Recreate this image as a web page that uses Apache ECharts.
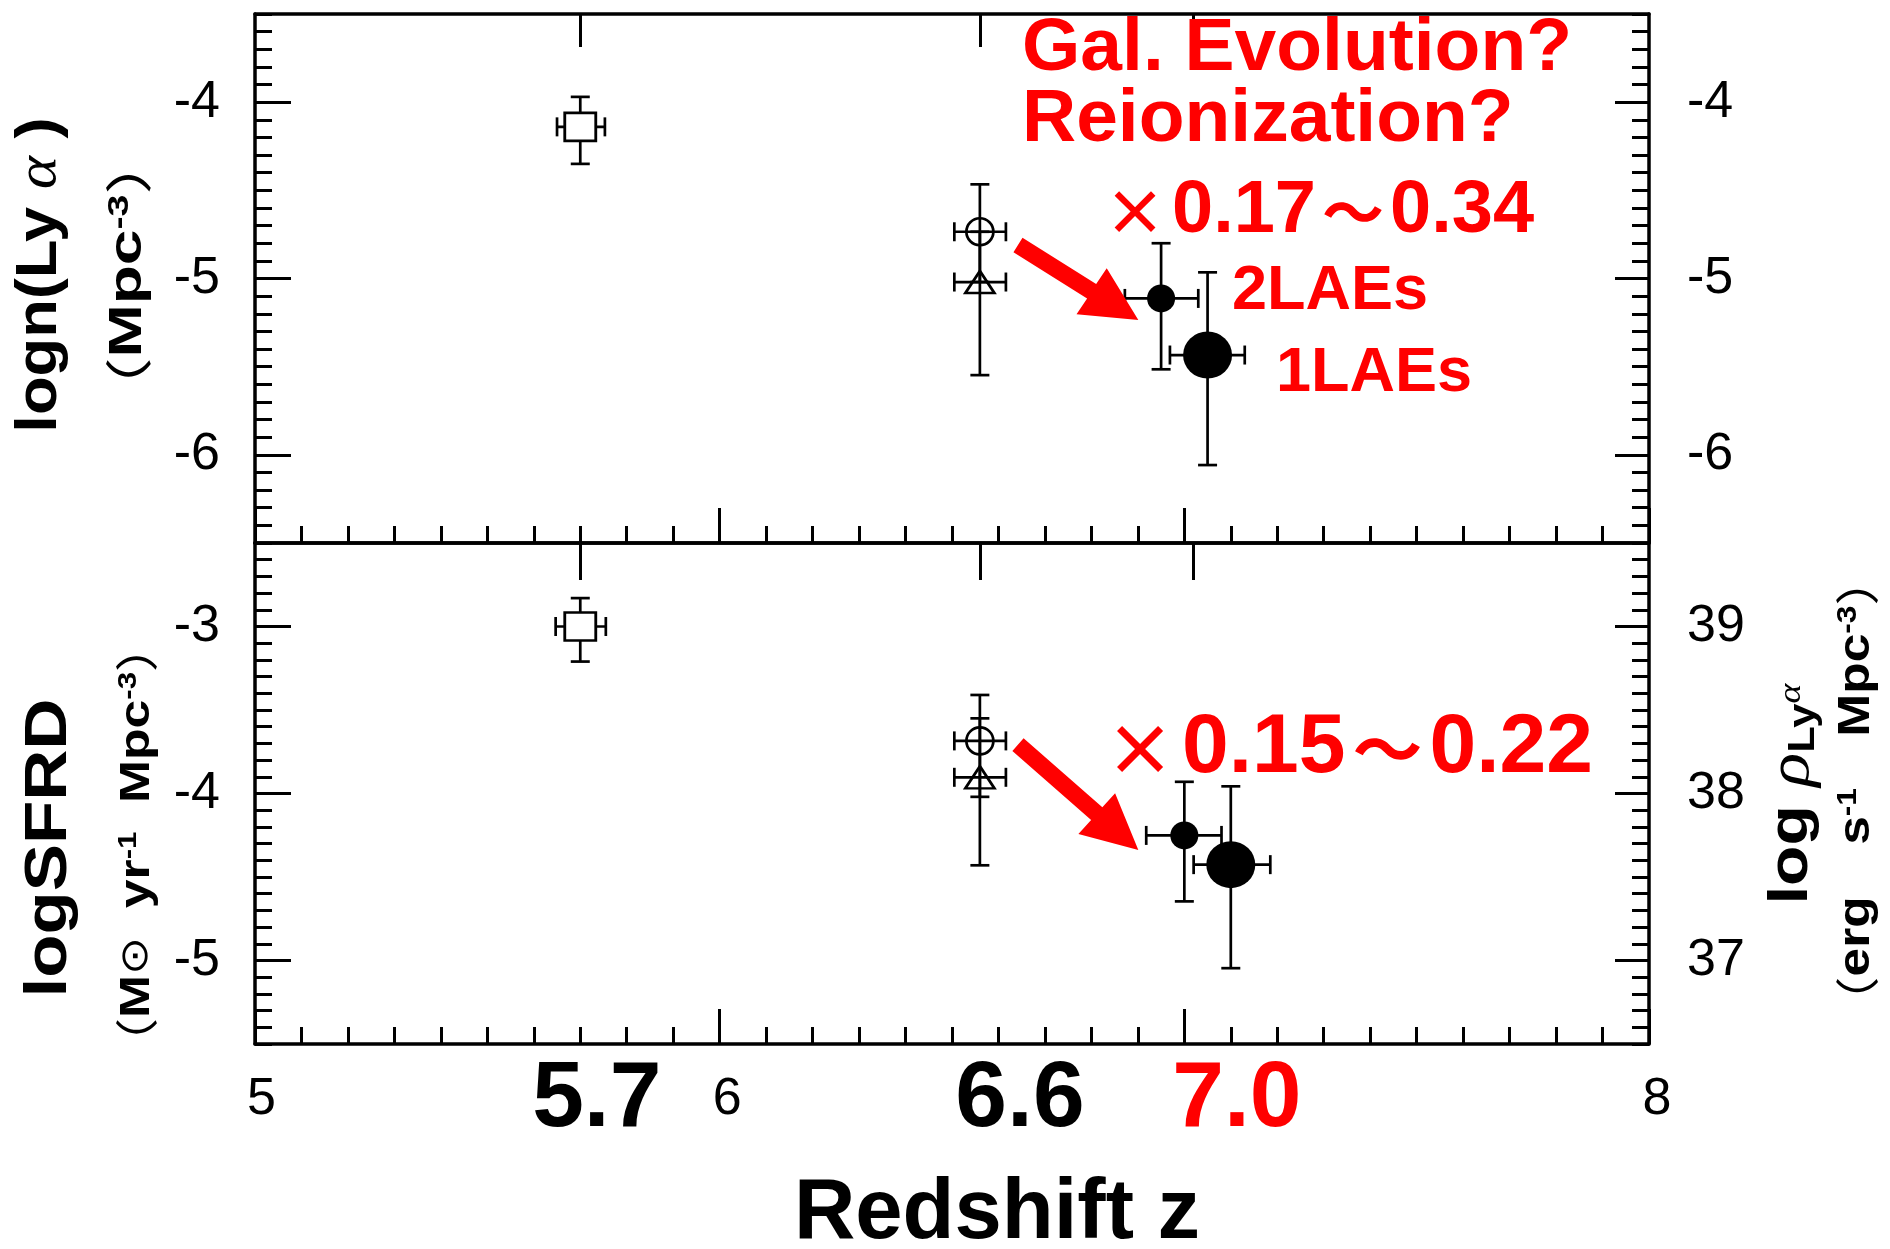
<!DOCTYPE html>
<html><head><meta charset="utf-8">
<script src="https://cdn.jsdelivr.net/npm/echarts@6/dist/echarts.min.js"></script>
<style>html,body{margin:0;padding:0;background:#fff}#c{width:1890px;height:1249px}</style>
</head><body><div id="c"></div>
<script>
// ---------------- data ----------------
// marker kinds, same order in every array below
const markerKinds = ['square', 'openCircle', 'openTriangle', 'dot2LAEs', 'dot1LAE'];

// upper panel : log n(Lya) [Mpc^-3]
const upperZ   = [5.70, 6.56, 6.56, 6.95, 7.05];
const upperZLo = [5.65, 6.505, 6.505, 6.872, 6.969];
const upperZHi = [5.753, 6.616, 6.616, 7.030, 7.130];
const upperY   = [-4.14, -4.735, -5.02, -5.113, -5.434];
const upperYHi = [-3.97, -4.466, -4.735, -4.80, -4.965];
const upperYLo = [-4.35, -5.02, -5.548, -5.515, -6.058];

// lower panel : log SFRD [Msun yr^-1 Mpc^-3]
const lowerZ   = [5.70, 6.56, 6.56, 7.00, 7.10];
const lowerZLo = [5.647, 6.505, 6.505, 6.918, 7.020];
const lowerZHi = [5.755, 6.616, 6.616, 7.080, 7.185];
const lowerY   = [-3.00, -3.685, -3.903, -4.251, -4.426];
const lowerYHi = [-2.83, -3.41, -3.55, -3.93, -3.957];
const lowerYLo = [-3.21, -4.02, -4.43, -4.646, -5.046];

// axes / tick labels
const xRange = [5, 8];
const xTickValues = [5, 6, 8];
const xTickLabels = ['5', '6', '8'];
const surveyZ = [5.7, 6.6, 7.0];
const surveyLabels = ['5.7', '6.6', '7.0'];
const surveyTicks = [5.7, 6.56, 7.02];
const upperYRange = [-6.5, -3.5];
const upperYTicks = [-6, -5, -4];
const lowerYRange = [-5.5, -2.5];
const lowerYTicks = [-5, -4, -3];
const lowerRightRange = [36.5, 39.5];
const lowerRightTicks = [37, 38, 39];

// annotation arrows (data coordinates)
const arrowUpper = {tail: [6.642, -4.810], tip: [6.901, -5.235], wingA: [6.768, -5.203], wingB: [6.833, -4.942]};
const arrowLower = {tail: [6.642, -3.707], tip: [6.901, -4.338], wingA: [6.772, -4.243], wingB: [6.851, -3.999]};

// ---------------- styling ----------------
const FONT = '"Liberation Sans", Arial, sans-serif';
const CJK = '"Noto Sans CJK JP", "Noto Sans CJK SC", sans-serif';
const SERIF = '"Liberation Serif", "DejaVu Serif", serif';
const DJV = '"DejaVu Sans", sans-serif';
const RED = '#ff0000';
const AXW = 3.5, TKW = 3;

const markerStyle = {
  square:       {symbol: 'rect',     size: [31, 28], fill: '#fff'},
  openCircle:   {symbol: 'circle',   size: 27,       fill: 'rgba(0,0,0,0)'},
  openTriangle: {symbol: 'triangle', size: [29, 22], fill: 'rgba(0,0,0,0)'},
  dot2LAEs:     {symbol: 'circle',   size: 28,       fill: '#000'},
  dot1LAE:      {symbol: 'circle',   size: [49, 47], fill: '#000'}
};

const smallPad = [13, 15, 16];
const surveyPad = [33, 43, 105];
const surveyColor = ['#000', '#000', RED];
// which label axis carries each survey label (the red 7.0 sits on its own overlay axis)
const surveyAxis = [0, 0, 1];

const chart = echarts.init(document.getElementById('c'), null, {renderer: 'canvas'});

function labelRich() {
  const rich = {};
  xTickValues.forEach((v, i) => {
    rich['t' + i] = {fontSize: 52, fontFamily: FONT, color: '#000', lineHeight: 100, verticalAlign: 'middle', padding: [0, 0, 0, smallPad[i]]};
  });
  surveyZ.forEach((v, i) => {
    rich['b' + i] = {fontSize: 93, fontWeight: 'bold', fontFamily: FONT, color: surveyColor[i], lineHeight: 100, verticalAlign: 'middle', padding: [0, 0, 0, surveyPad[i]]};
  });
  return rich;
}
function labelFormatter(val) {
  for (let i = 0; i < xTickValues.length; i++) if (Math.abs(val - xTickValues[i]) < 1e-6) return '{t' + i + '|' + xTickLabels[i] + '}';
  for (let i = 0; i < surveyZ.length; i++) if (Math.abs(val - surveyZ[i]) < 1e-6) return '{b' + i + '|' + surveyLabels[i] + '}';
  return '';
}

function xAxisBottom(grid, withLabels) {
  const ax = {
    type: 'value', gridIndex: grid, position: 'bottom', min: xRange[0], max: xRange[1], interval: 1,
    axisLine: {show: true, onZero: false, lineStyle: {color: '#000', width: AXW}},
    axisTick: {show: true, inside: true, length: 35, lineStyle: {color: '#000', width: TKW}},
    minorTick: {show: true, splitNumber: 10, length: 17, lineStyle: {color: '#000', width: TKW}},
    splitLine: {show: false}, minorSplitLine: {show: false},
    axisLabel: {show: false}
  };
  if (withLabels) {
    ax.axisLabel = {
      show: true, margin: 6, hideOverlap: false,
      customValues: xTickValues.concat(surveyZ.filter((v, i) => surveyAxis[i] === 0)),
      rich: labelRich(), formatter: labelFormatter
    };
    ax.name = 'Redshift z';
    ax.nameLocation = 'middle';
    ax.nameGap = 128;
    ax.nameTextStyle = {fontSize: 85, fontWeight: 'bold', fontFamily: FONT, color: '#000', lineHeight: 85, padding: [0, 0, 0, 90]};
  }
  return ax;
}
function xAxisOverlayLabels(grid) {
  return {
    type: 'value', gridIndex: grid, position: 'bottom', min: xRange[0], max: xRange[1],
    axisLine: {show: false}, axisTick: {show: false}, splitLine: {show: false},
    axisLabel: {show: true, margin: 6, hideOverlap: false,
      customValues: surveyZ.filter((v, i) => surveyAxis[i] === 1),
      rich: labelRich(), formatter: labelFormatter}
  };
}
function xAxisTop(grid, len) {
  return {
    type: 'value', gridIndex: grid, position: 'top', min: xRange[0], max: xRange[1],
    axisLine: {show: true, onZero: false, lineStyle: {color: '#000', width: AXW}},
    axisTick: {show: true, inside: true, length: len, customValues: surveyTicks, lineStyle: {color: '#000', width: TKW}},
    splitLine: {show: false}, axisLabel: {show: false}
  };
}
function yAxisShort(grid, pos, range, labels, margin) {
  return {
    type: 'value', gridIndex: grid, position: pos, min: range[0], max: range[1], interval: 0.1,
    axisLine: {show: true, onZero: false, lineStyle: {color: '#000', width: AXW}},
    axisTick: {show: true, inside: true, length: 17, lineStyle: {color: '#000', width: TKW}},
    splitLine: {show: false},
    axisLabel: {show: true, customValues: labels, margin: margin, fontSize: 52, fontFamily: FONT, color: '#000', hideOverlap: false}
  };
}
function yAxisLong(grid, pos, range, ticks, len) {
  return {
    type: 'value', gridIndex: grid, position: pos, min: range[0], max: range[1],
    axisLine: {show: false},
    axisTick: {show: true, inside: true, length: len, customValues: ticks, lineStyle: {color: '#000', width: TKW}},
    splitLine: {show: false}, axisLabel: {show: false}
  };
}

function renderErr(params, api) {
  const z = api.value(0), y = api.value(1);
  const c = api.coord([z, y]);
  const lo = api.coord([z, api.value(4)]), hi = api.coord([z, api.value(5)]);
  const l = api.coord([api.value(2), y]), r = api.coord([api.value(3), y]);
  const cap = 9.5, st = {stroke: '#000', lineWidth: 2.7};
  const ln = (x1, y1, x2, y2) => ({type: 'line', shape: {x1, y1, x2, y2}, style: st});
  return {type: 'group', children: [
    ln(c[0], lo[1], c[0], hi[1]), ln(c[0] - cap, lo[1], c[0] + cap, lo[1]), ln(c[0] - cap, hi[1], c[0] + cap, hi[1]),
    ln(l[0], c[1], r[0], c[1]), ln(l[0], c[1] - cap, l[0], c[1] + cap), ln(r[0], c[1] - cap, r[0], c[1] + cap)
  ]};
}

function panelSeries(xIdx, yIdx, Z, ZLo, ZHi, Y, YLo, YHi) {
  const out = [{
    type: 'custom', xAxisIndex: xIdx, yAxisIndex: yIdx, renderItem: renderErr, silent: true, z: 2,
    encode: {x: 0, y: 1},
    data: Z.map((z, i) => [z, Y[i], ZLo[i], ZHi[i], YLo[i], YHi[i]])
  }];
  markerKinds.forEach((k, i) => {
    const m = markerStyle[k];
    out.push({
      type: 'scatter', name: k, xAxisIndex: xIdx, yAxisIndex: yIdx, silent: true, z: 3,
      symbol: m.symbol, symbolSize: m.size,
      itemStyle: {color: m.fill, borderColor: '#000', borderWidth: k.indexOf('dot') === 0 ? 0 : 2.7, opacity: 1},
      emphasis: {disabled: true},
      data: [[Z[i], Y[i]]]
    });
  });
  return out;
}

const option = {
  animation: false,
  backgroundColor: '#fff',
  textStyle: {fontFamily: FONT},
  grid: [
    {left: 255, top: 14, width: 1394, height: 529, outerBoundsMode: 'none', show: false},
    {left: 255, top: 543, width: 1394, height: 501, outerBoundsMode: 'none', show: false}
  ],
  xAxis: [xAxisBottom(0, false), xAxisTop(0, 33), xAxisBottom(1, true), xAxisTop(1, 37), xAxisOverlayLabels(1)],
  yAxis: [
    yAxisShort(0, 'left', upperYRange, upperYTicks, 35),
    yAxisLong(0, 'left', upperYRange, upperYTicks, 36),
    yAxisShort(0, 'right', upperYRange, upperYTicks, 38),
    yAxisLong(0, 'right', upperYRange, upperYTicks, 34),
    yAxisShort(1, 'left', lowerYRange, lowerYTicks, 35),
    yAxisLong(1, 'left', lowerYRange, lowerYTicks, 36),
    yAxisShort(1, 'right', lowerRightRange, lowerRightTicks, 38),
    yAxisLong(1, 'right', lowerRightRange, lowerRightTicks, 34)
  ],
  series: [].concat(
    panelSeries(0, 0, upperZ, upperZLo, upperZHi, upperY, upperYLo, upperYHi),
    panelSeries(2, 4, lowerZ, lowerZLo, lowerZHi, lowerY, lowerYLo, lowerYHi)
  )
};
chart.setOption(option);

// ---------------- annotations ----------------
function arrowPolygon(a, xIdx, yIdx) {
  const P = p => chart.convertToPixel({xAxisIndex: xIdx, yAxisIndex: yIdx}, p);
  const T = P(a.tail), tip = P(a.tip), W1 = P(a.wingA), W2 = P(a.wingB);
  const M = [(W1[0] + W2[0]) / 2, (W1[1] + W2[1]) / 2];
  let dx = M[0] - T[0], dy = M[1] - T[1];
  const L = Math.hypot(dx, dy); dx /= L; dy /= L;
  const n = [-dy, dx], hw = 8.5;
  let Wp = W1, Wm = W2;
  if ((W1[0] - M[0]) * n[0] + (W1[1] - M[1]) * n[1] < 0) { Wp = W2; Wm = W1; }
  const pts = [
    [T[0] + n[0] * hw, T[1] + n[1] * hw], [M[0] + n[0] * hw, M[1] + n[1] * hw], Wp, tip, Wm,
    [M[0] - n[0] * hw, M[1] - n[1] * hw], [T[0] - n[0] * hw, T[1] - n[1] * hw]
  ];
  return {type: 'polygon', shape: {points: pts}, style: {fill: RED}, z: 50};
}

function txt(x, y, text, font, fill) {
  return {type: 'text', x: x, y: y, z: 60, style: {text: text, font: font, fill: fill, align: 'left', verticalAlign: 'middle'}};
}
function richTxt(x, y, text, rich, align, rotation, stretch) {
  return {type: 'text', x: x, y: y, rotation: rotation || 0, scaleX: stretch || 1, scaleY: 1, z: 60,
    style: {text: text, rich: rich, align: align, verticalAlign: 'middle'}};
}
const bold = (s) => 'bold ' + s + 'px ' + FONT;

const multRich = (size, xSize, xPad) => ({
  x: {fontFamily: CJK, fontWeight: 'bold', fontSize: xSize, fill: RED, lineHeight: xSize, verticalAlign: 'middle', padding: [0, xPad, 0, xPad]},
  n: {fontFamily: FONT, fontWeight: 'bold', fontSize: size, fill: RED, lineHeight: size, verticalAlign: 'middle'}
});

const graphics = [
  arrowPolygon(arrowUpper, 0, 0),
  arrowPolygon(arrowLower, 2, 4),
  txt(1022, 49, 'Gal. Evolution?', bold(75), RED),
  txt(1022, 120.5, 'Reionization?', bold(75), RED),
  richTxt(1098, 212, '{x|×}{n|0.17}{x|～}{n|0.34}', multRich(74, 62, 6), 'left'),
  txt(1232, 292, '2LAEs', bold(63), RED),
  txt(1276, 373.5, '1LAEs', bold(63), RED),
  richTxt(1098, 749, '{x|×}{n|0.15}{x|～}{n|0.22}', multRich(84, 70, 7), 'left'),
  // left title, upper panel
  richTxt(40, 275, '{a|logn(Ly }{g|α}{a| )}', {
    a: {fontFamily: FONT, fontWeight: 'bold', fontSize: 58, fill: '#000', lineHeight: 58, verticalAlign: 'middle'},
    g: {fontFamily: SERIF, fontStyle: 'italic', fontSize: 58, fill: '#000', lineHeight: 58, verticalAlign: 'middle'}
  }, 'center', Math.PI / 2, 1.09),
  richTxt(128.5, 276, '{p|（}{a|Mpc}{s|-3}{p|）}', {
    p: {fontFamily: CJK, fontSize: 47, fill: '#000', lineHeight: 47, verticalAlign: 'middle'},
    a: {fontFamily: FONT, fontWeight: 'bold', fontSize: 47, fill: '#000', lineHeight: 47, verticalAlign: 'middle'},
    s: {fontFamily: FONT, fontWeight: 'bold', fontSize: 29, fill: '#000', lineHeight: 29, verticalAlign: 'top'}
  }, 'center', Math.PI / 2, 1.36),
  // left title, lower panel
  richTxt(49, 848, '{a|logSFRD}', {
    a: {fontFamily: FONT, fontWeight: 'bold', fontSize: 60, fill: '#000', lineHeight: 60, verticalAlign: 'middle'}
  }, 'center', Math.PI / 2, 1.18),
  richTxt(137, 845, '{p|（}{a|M}{o|⊙}{a|  yr}{s|-1}{a|  Mpc}{s|-3}{p|）}', {
    p: {fontFamily: CJK, fontSize: 43, fill: '#000', lineHeight: 43, verticalAlign: 'middle'},
    o: {fontFamily: DJV, fontSize: 38, fill: '#000', lineHeight: 43, verticalAlign: 'middle'},
    a: {fontFamily: FONT, fontWeight: 'bold', fontSize: 43, fill: '#000', lineHeight: 43, verticalAlign: 'middle'},
    s: {fontFamily: FONT, fontWeight: 'bold', fontSize: 26, fill: '#000', lineHeight: 26, verticalAlign: 'top'}
  }, 'center', Math.PI / 2, 1.2),
  // right title, lower panel
  richTxt(1792, 794, '{a|log }{g|ρ}{b|Ly}{c|α}', {
    a: {fontFamily: FONT, fontWeight: 'bold', fontSize: 56, fill: '#000', lineHeight: 60, verticalAlign: 'middle'},
    g: {fontFamily: SERIF, fontStyle: 'italic', fontSize: 60, fill: '#000', lineHeight: 60, verticalAlign: 'middle'},
    b: {fontFamily: FONT, fontWeight: 'bold', fontSize: 37, fill: '#000', lineHeight: 37, verticalAlign: 'bottom'},
    c: {fontFamily: SERIF, fontStyle: 'italic', fontSize: 32, fill: '#000', lineHeight: 32, verticalAlign: 'middle'}
  }, 'center', Math.PI / 2, 1.18),
  richTxt(1857, 791, '{p|（}{a|erg}{o|　}{a|s}{s|-1}{o|　}{a|Mpc}{s|-3}{p|）}', {
    p: {fontFamily: CJK, fontSize: 44, fill: '#000', lineHeight: 44, verticalAlign: 'middle'},
    o: {fontFamily: CJK, fontSize: 44, fill: '#000', lineHeight: 44, verticalAlign: 'middle'},
    a: {fontFamily: FONT, fontWeight: 'bold', fontSize: 44, fill: '#000', lineHeight: 44, verticalAlign: 'middle'},
    s: {fontFamily: FONT, fontWeight: 'bold', fontSize: 27, fill: '#000', lineHeight: 27, verticalAlign: 'top'}
  }, 'center', Math.PI / 2, 1.17)
];
chart.setOption({graphic: {elements: graphics}});
</script>
</body></html>
